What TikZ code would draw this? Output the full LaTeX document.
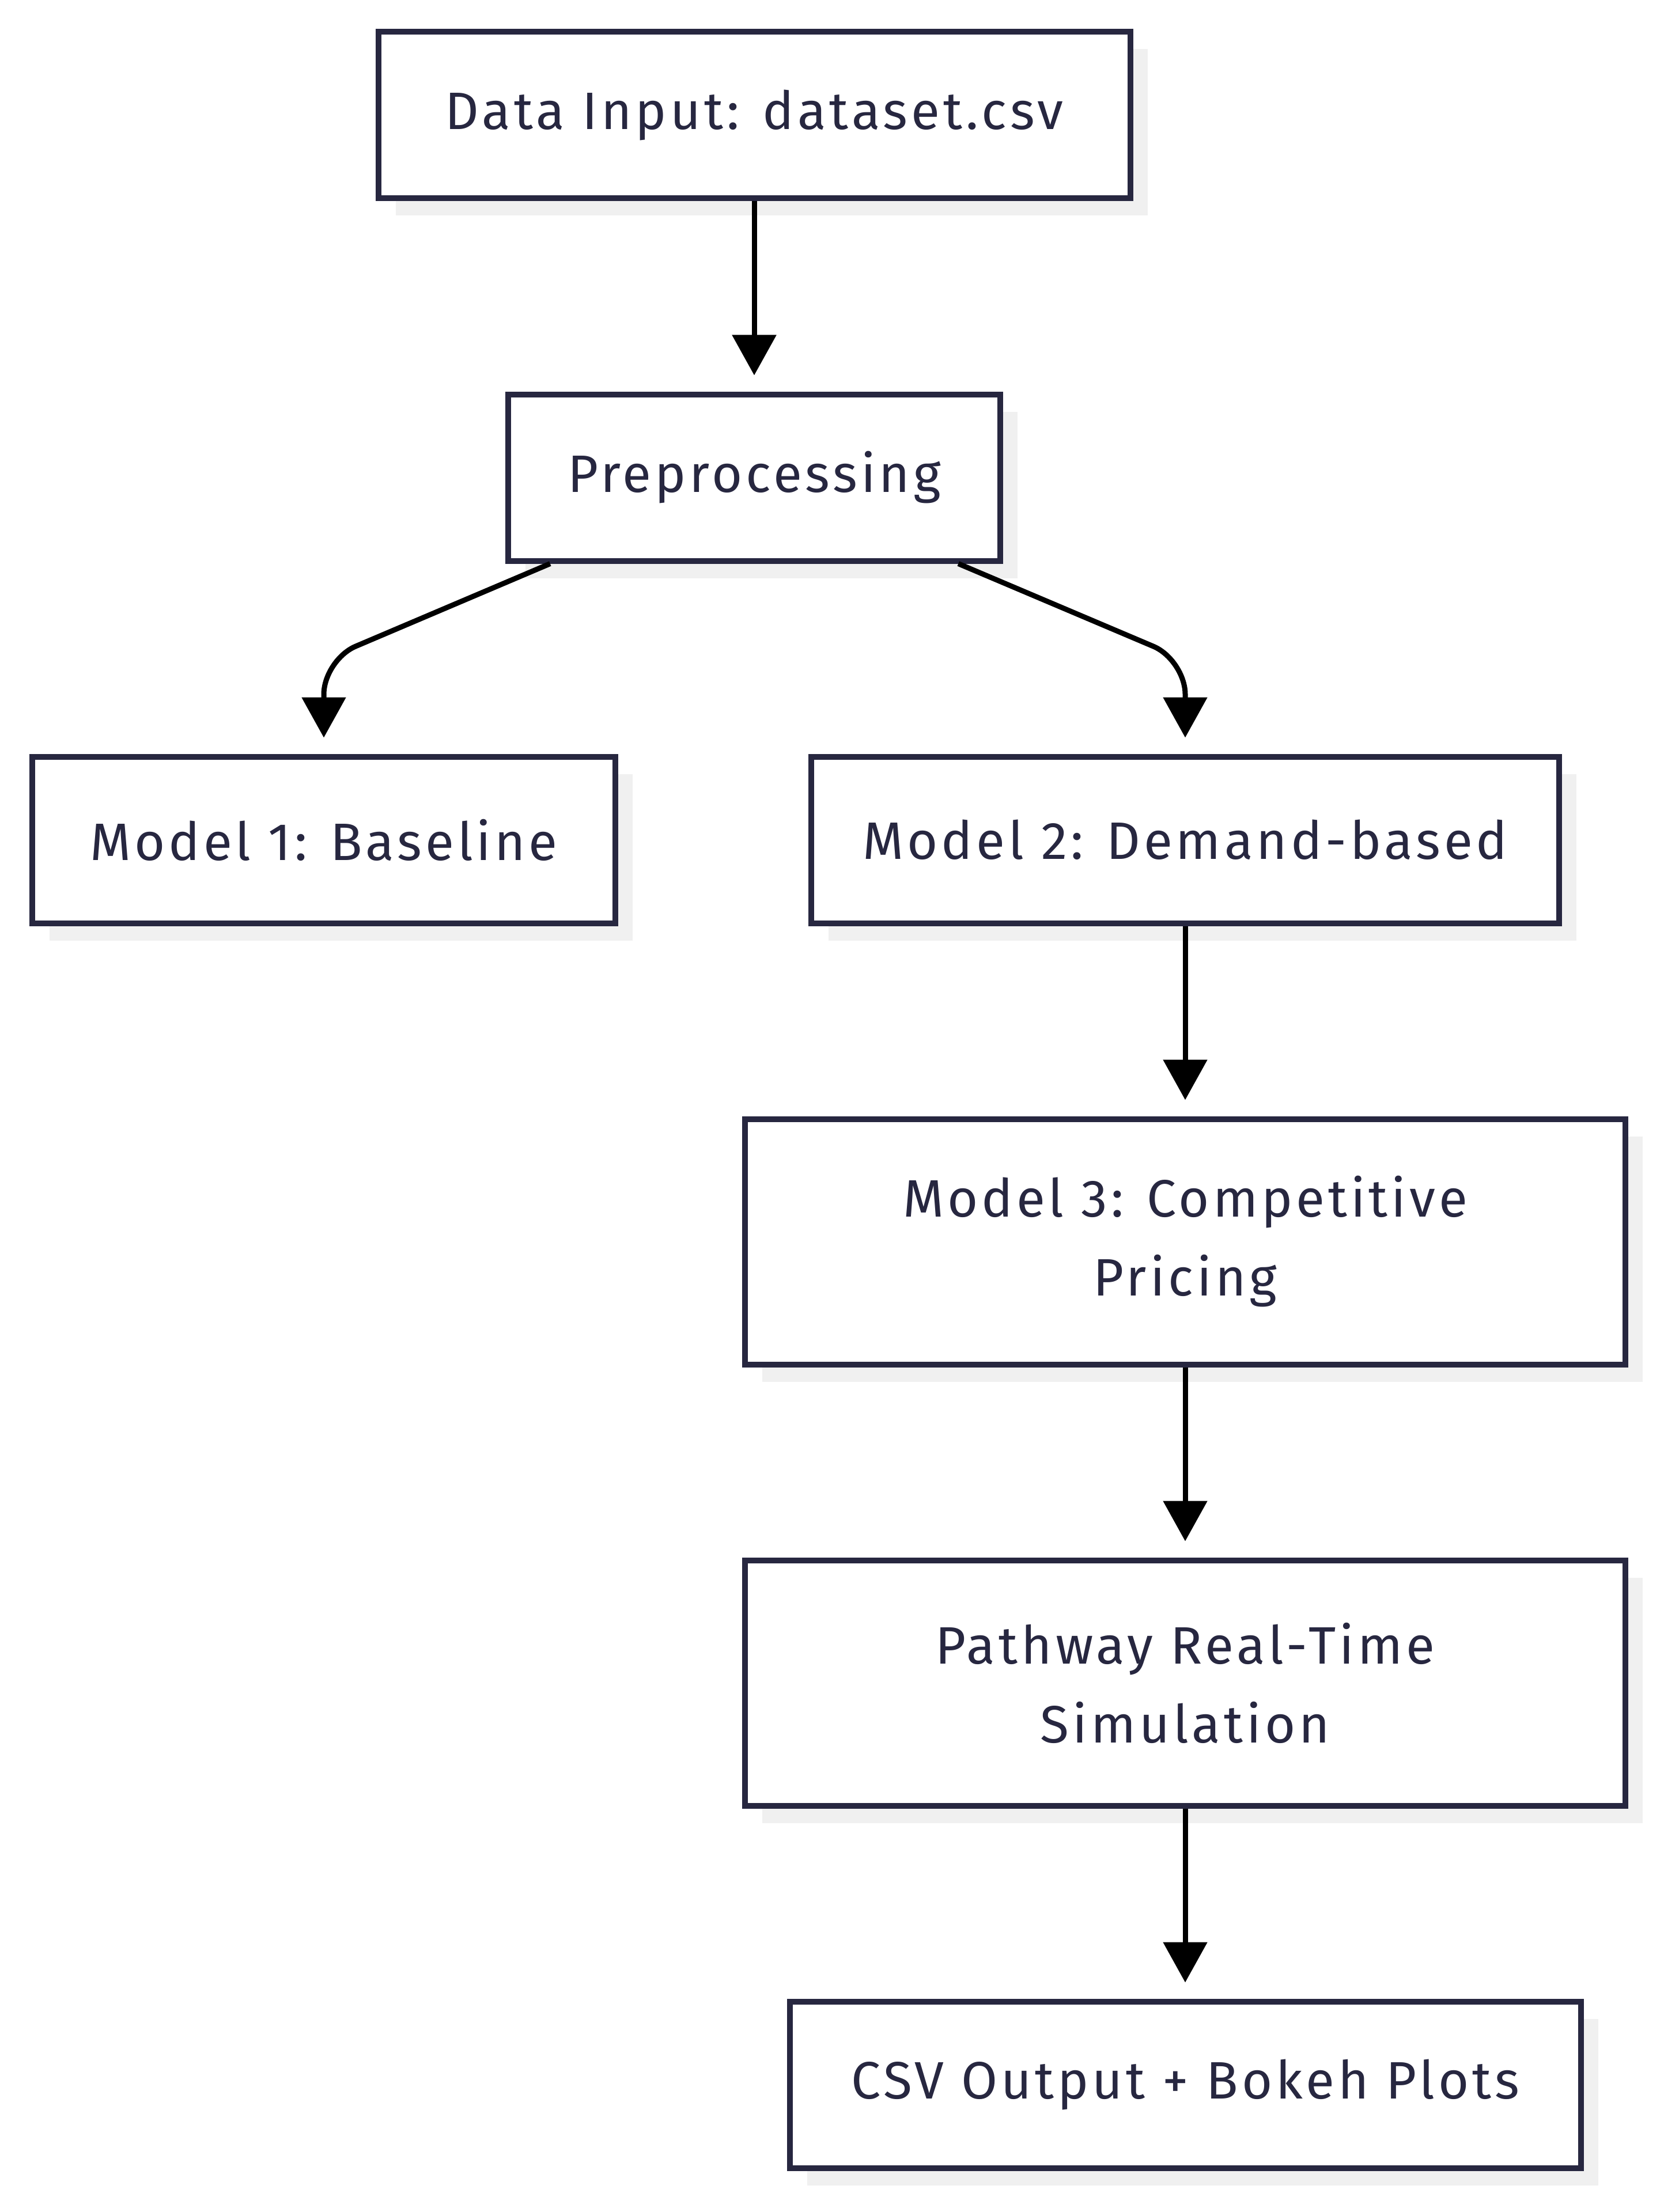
\documentclass[tikz,border=0pt]{standalone}
\usepackage{fontspec}
\setmainfont[LetterSpace=6.5]{Fira Sans}
\usepackage{tikz}
\usetikzlibrary{arrows.meta,shapes,positioning,shadows}
\usetikzlibrary{calc}
\definecolor{boxline}{HTML}{272740}
\definecolor{boxshade}{HTML}{F0F0F0}

\begin{document}
\begin{tikzpicture}[node distance = 3.3cm, auto]
        \tikzstyle{block} = [rectangle, draw=boxline, line width=0.1cm,
                             fill=white, text=boxline, align=center,
                             minimum height=2.89cm,
                             font=\fontsize{26}{39}\selectfont,
                             drop shadow={shadow xshift=0.3cm,
                               shadow yshift=-0.3cm, fill=boxshade,
                               opacity=1}]
        \tikzstyle{arrow} = [draw, line width=0.09cm, shorten >=0.28cm,
                             -{Triangle[length=0.7cm, width=0.75cm]}]
        \useasboundingbox (0,0) rectangle (28.87,-38.40);
        \node[block, minimum width=13.05cm] (data) at (13.09,-2.00)
          {Data Input: dataset.csv};
        \node[block, minimum width=8.54cm, below=of data] (prep)
          {Preprocessing};
        \path[arrow] (data) -- (prep);
        \node[block, minimum width=10.12cm, below=of prep,
              xshift=-7.47cm] (base) {Model 1: Baseline};
        \node[block, minimum width=12.98cm, right=of base] (demand)
          {Model 2: Demand-based};
        \path[arrow, rounded corners=0.6cm]
          ($(prep.south west)!0.09!(prep.south east)$) --
          ($(base.north)+(0,1.63)$) -- (base.north);
        \path[arrow, rounded corners=0.6cm]
          ($(prep.south west)!0.91!(prep.south east)$) --
          ($(demand.north)+(0,1.63)$) -- (demand.north);
        \node[block, minimum width=15.28cm, minimum height=4.26cm,
              below=of demand] (comp) {Model 3: Competitive\\Pricing};
        \path[arrow] (demand) -- (comp);
        \node[block, minimum width=15.28cm, minimum height=4.26cm,
              below=of comp] (sim) {Pathway Real-Time\\Simulation};
        \path[arrow] (comp) -- (sim);
        \node[block, minimum width=13.73cm, below=of sim] (out)
          {CSV Output + Bokeh Plots};
        \path[arrow] (sim) -- (out);
      \end{tikzpicture}
\end{document}
